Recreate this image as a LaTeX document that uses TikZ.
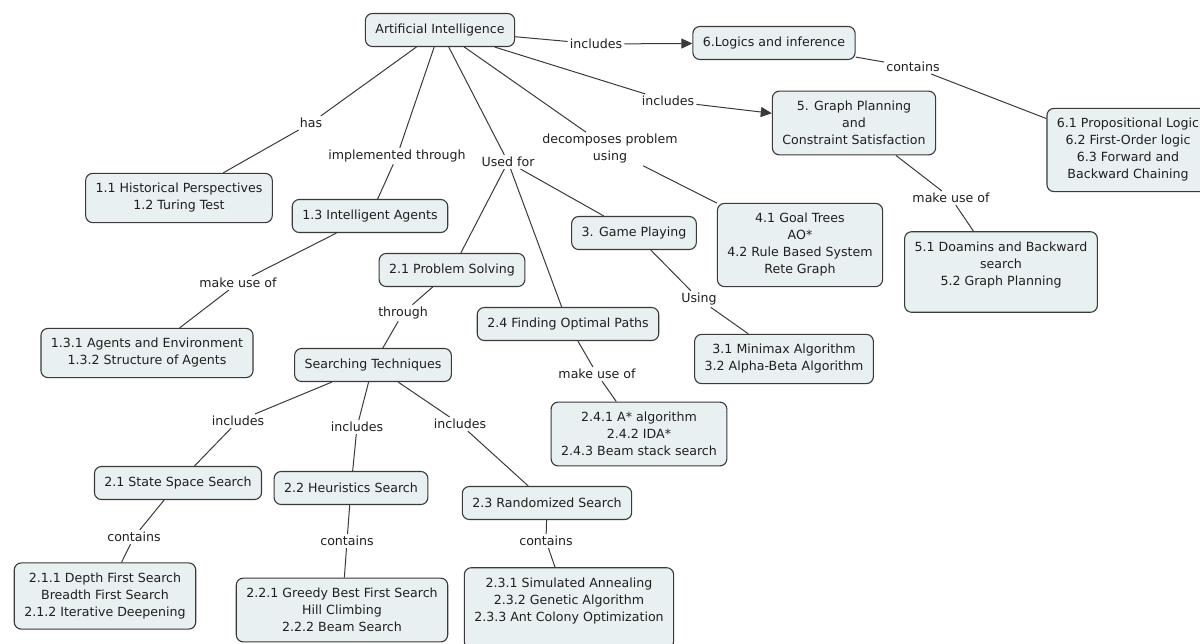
\documentclass[tikz,border=0pt]{standalone}
\usepackage{fontspec}
\setmainfont{DejaVu Sans}
\usetikzlibrary{arrows.meta}
\definecolor{cmapfill}{RGB}{233,240,242}
\definecolor{cmapline}{RGB}{58,58,58}
\tikzset{
	concept/.style={draw=cmapline, fill=cmapfill, rounded corners=7pt, line width=1.1pt, align=center, inner xsep=10pt, inner ysep=10pt, minimum height=33pt},
	linkword/.style={fill=white, inner sep=2pt, align=center},
	line/.style={draw=cmapline, line width=1pt},
	arrowline/.style={line, -{Triangle[length=11pt,width=10pt]}}
}
\begin{document}
\begin{tikzpicture}[x=1pt, y=-1pt, font=\fontsize{12.6}{17}\selectfont, text=black!88]
		\useasboundingbox (0,0) rectangle (1200,643);
		\clip (0,0) rectangle (1200,643);
		\node[concept] (ai) at (440,30) {Artificial Intelligence};
		\node[concept] (logic) at (774,43) {6.Logics and inference};
		\node[concept] (gp) at (854,123) {5. Graph Planning\\and\\Constraint Satisfaction};
		\node[concept] (prop) at (1128,150) {6.1 Propositional Logic\\6.2 First-Order logic\\6.3 Forward and\\Backward Chaining};
		\node[concept] (hist) at (179,198) {1.1 Historical Perspectives\\1.2 Turing Test};
		\node[concept] (agents) at (370,216) {1.3 Intelligent Agents};
		\node[concept] (ps) at (452,270) {2.1 Problem Solving};
		\node[concept] (game) at (634,233) {3. Game Playing};
		\node[concept] (goal) at (800,245) {4.1 Goal Trees\\AO*\\4.2 Rule Based System\\Rete Graph};
		\node[concept] (dom) at (1001,272) {5.1 Doamins and Backward\\search\\5.2 Graph Planning\\\mbox{}};
		\node[concept] (agenv) at (147,353) {1.3.1 Agents and Environment\\1.3.2 Structure of Agents};
		\node[concept] (st) at (373,365) {Searching Techniques};
		\node[concept] (opt) at (568,324) {2.4 Finding Optimal Paths};
		\node[concept] (minimax) at (784,359) {3.1 Minimax Algorithm\\3.2 Alpha-Beta Algorithm};
		\node[concept] (astar) at (639,434) {2.4.1 A* algorithm\\2.4.2 IDA*\\2.4.3 Beam stack search};
		\node[concept] (sss) at (178,483) {2.1 State Space Search};
		\node[concept] (hs) at (351,488) {2.2 Heuristics Search};
		\node[concept] (rs) at (547,503) {2.3 Randomized Search};
		\node[concept] (dfs) at (105,596) {2.1.1 Depth First Search\\Breadth First Search\\2.1.2 Iterative Deepening};
		\node[concept] (greedy) at (342,610) {2.2.1 Greedy Best First Search\\Hill Climbing\\2.2.2 Beam Search};
		\node[concept] (sa) at (569,608) {2.3.1 Simulated Annealing\\2.3.2 Genetic Algorithm\\2.3.3 Ant Colony Optimization\\\mbox{}};

		\node[linkword] (inc1) at (596,44) {includes};
		\node[linkword] (inc2) at (668,101) {includes};
		\node[linkword] (cont1) at (913,67) {contains};
		\node[linkword] (has) at (311,123) {has};
		\node[linkword] (impl) at (397,156) {implemented through};
		\node[linkword] (used) at (508,162) {Used for};
		\node[linkword] (decomp) at (610,149) {decomposes problem\\using};
		\node[linkword] (mu1) at (238,283) {make use of};
		\node[linkword] (thr) at (403,313) {through};
		\node[linkword] (mu2) at (597,374) {make use of};
		\node[linkword] (using) at (699,299) {Using};
		\node[linkword] (mu3) at (951,198) {make use of};
		\node[linkword] (inc3) at (238,421) {includes};
		\node[linkword] (inc4) at (357,427) {includes};
		\node[linkword] (inc5) at (460,424) {includes};
		\node[linkword] (cont2) at (134,537) {contains};
		\node[linkword] (cont3) at (347,541) {contains};
		\node[linkword] (cont4) at (546,541) {contains};

		\draw[line] (ai) -- (inc1) (ai) -- (inc2) (ai) -- (has) (ai) -- (impl) (ai) -- (used) (ai) -- (decomp);
		\draw[arrowline] (inc1) -- (logic);
		\draw[arrowline] (inc2) -- (gp);
		\draw[line] (logic) -- (cont1) (cont1) -- (prop);
		\draw[line] (has) -- (hist);
		\draw[line] (impl) -- (agents);
		\draw[line] (used) -- (ps) (used) -- (opt) (used) -- (game);
		\draw[line] (decomp) -- (goal);
		\draw[line] (gp) -- (mu3) (mu3) -- (dom);
		\draw[line] (agents) -- (mu1) (mu1) -- (agenv);
		\draw[line] (ps) -- (thr) (thr) -- (st);
		\draw[line] (opt) -- (mu2) (mu2) -- (astar);
		\draw[line] (game) -- (using) (using) -- (minimax);
		\draw[line] (st) -- (inc3) (inc3) -- (sss);
		\draw[line] (st) -- (inc4) (inc4) -- (hs);
		\draw[line] (st) -- (inc5) (inc5) -- (rs);
		\draw[line] (sss) -- (cont2) (cont2) -- (dfs);
		\draw[line] (hs) -- (cont3) (cont3) -- (greedy);
		\draw[line] (rs) -- (cont4) (cont4) -- (sa);
\end{tikzpicture}
\end{document}
